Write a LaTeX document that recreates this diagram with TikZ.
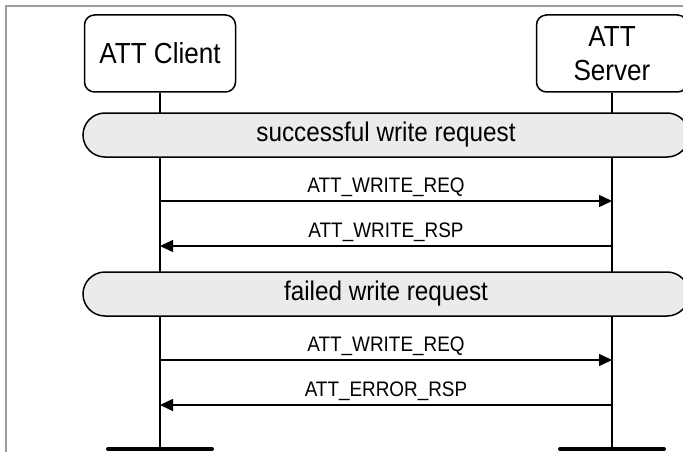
\documentclass[tikz,border=0pt]{standalone}
\usepackage{fontspec}
\setmainfont{Liberation Sans}[FakeStretch=0.9]
\usetikzlibrary{arrows.meta,shapes.misc}
\begin{document}
\begin{tikzpicture}[x=1pt,y=-1pt,
  actor/.style={draw, line width=1.5pt, rounded corners=10pt, minimum width=151pt,
    minimum height=77pt, align=center, inner sep=0pt, fill=white,
    font=\fontsize{29}{34}\selectfont},
  phase/.style={draw, line width=1.5pt, fill=black!8, rounded rectangle,
    minimum width=606pt, minimum height=44pt, inner sep=0pt,
    font=\fontsize{27}{30}\selectfont},
  life/.style={line width=1.5pt},
  msg/.style={line width=1.5pt, -{Triangle[length=13pt,width=12pt]}},
  lbl/.style={anchor=base, yshift=9pt, font=\fontsize{21}{24}\selectfont},
  endbar/.style={line width=4pt, line cap=round},
  frame/.style={line width=1.5pt, draw=black!38}]
\useasboundingbox (0,0) rectangle (683,452);
\clip (0,0) rectangle (683,452);
\draw[frame] (683,6) -- (6,6) -- (6,452);
% actors
\node[actor] (client) at (160,53.5) {ATT Client};
\node[actor] (server) at (612,53.5) {ATT\\Server};
% lifeline ends
\coordinate (cend) at (160,449);
\coordinate (send) at (612,449);
\draw[life] (client.south) -- (cend);
\draw[life] (server.south) -- (send);
% phases
\node[phase] (ph1) at (386,135) {successful write request};
\node[phase] (ph2) at (386,294) {failed write request};
% message points
\coordinate (c1) at (160,201); \coordinate (s1) at (612,201);
\coordinate (c2) at (160,246); \coordinate (s2) at (612,246);
\coordinate (c3) at (160,360); \coordinate (s3) at (612,360);
\coordinate (c4) at (160,405); \coordinate (s4) at (612,405);
\draw[msg] (c1) -- node[lbl] {ATT\_WRITE\_REQ} (s1);
\draw[msg] (s2) -- node[lbl] {ATT\_WRITE\_RSP} (c2);
\draw[msg] (c3) -- node[lbl] {ATT\_WRITE\_REQ} (s3);
\draw[msg] (s4) -- node[lbl] {ATT\_ERROR\_RSP} (c4);
% end bars
\draw[endbar] ([xshift=-52pt]cend) -- ([xshift=52pt]cend);
\draw[endbar] ([xshift=-52pt]send) -- ([xshift=52pt]send);
\end{tikzpicture}
\end{document}
